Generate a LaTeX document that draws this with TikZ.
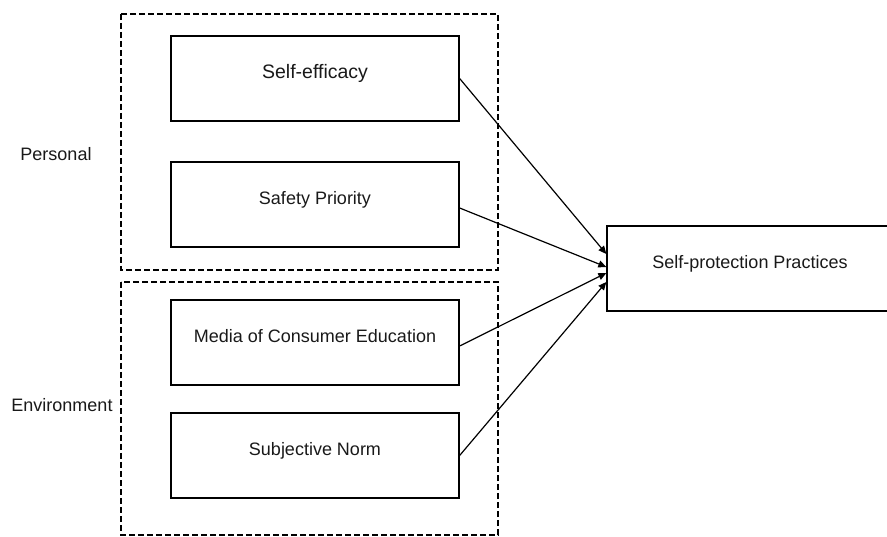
\documentclass[tikz,border=0pt]{standalone}
\usepackage{fontspec}
\setmainfont{Liberation Sans}
\usetikzlibrary{arrows.meta}
\tikzset{
  factor/.style={draw, line width=1.3pt, minimum width=288pt, minimum height=85pt, inner sep=0pt,
    text height=12pt, text depth=12pt, font=\fontsize{18}{20}\selectfont, text=black!90},
  group/.style={draw, line width=2pt, dash pattern=on 6pt off 3pt},
  grouplabel/.style={font=\fontsize{18}{20}\selectfont, text=black!90},
  link/.style={-{Triangle[length=8pt,width=7pt]}, line width=1.2pt},
}
\begin{document}
\begin{tikzpicture}[x=1pt,y=-1pt]
\clip (0,0) rectangle (887,537);
\draw[group] (121,14) rectangle (498,270); % personal group
\draw[group] (121,282) rectangle (498,535); % environment group
\node[grouplabel] (personal) at (56,154) {Personal};
\node[grouplabel] (environment) at (62,405) {Environment};
\node[factor, font=\fontsize{19.5}{21}\selectfont] (selfeff) at (315,78.5) {Self-efficacy};
\node[factor] (safety) at (315,204.5) {Safety Priority};
\node[factor] (media) at (315,342.5) {Media of Consumer Education};
\node[factor] (subjnorm) at (315,455.5) {Subjective Norm};
\node[factor, minimum width=286pt] (practice) at (750,268.5) {Self-protection Practices};
\foreach \src/\dy/\ey in {selfeff/0/14.5, safety/-3.5/1.5, media/-3.5/-4.5, subjnorm/0/-13.5} % edit here for the arrows
\draw[link] ([yshift=\dy pt]\src.east) -- ([yshift=\ey pt]practice.west);
\end{tikzpicture}
\end{document}
